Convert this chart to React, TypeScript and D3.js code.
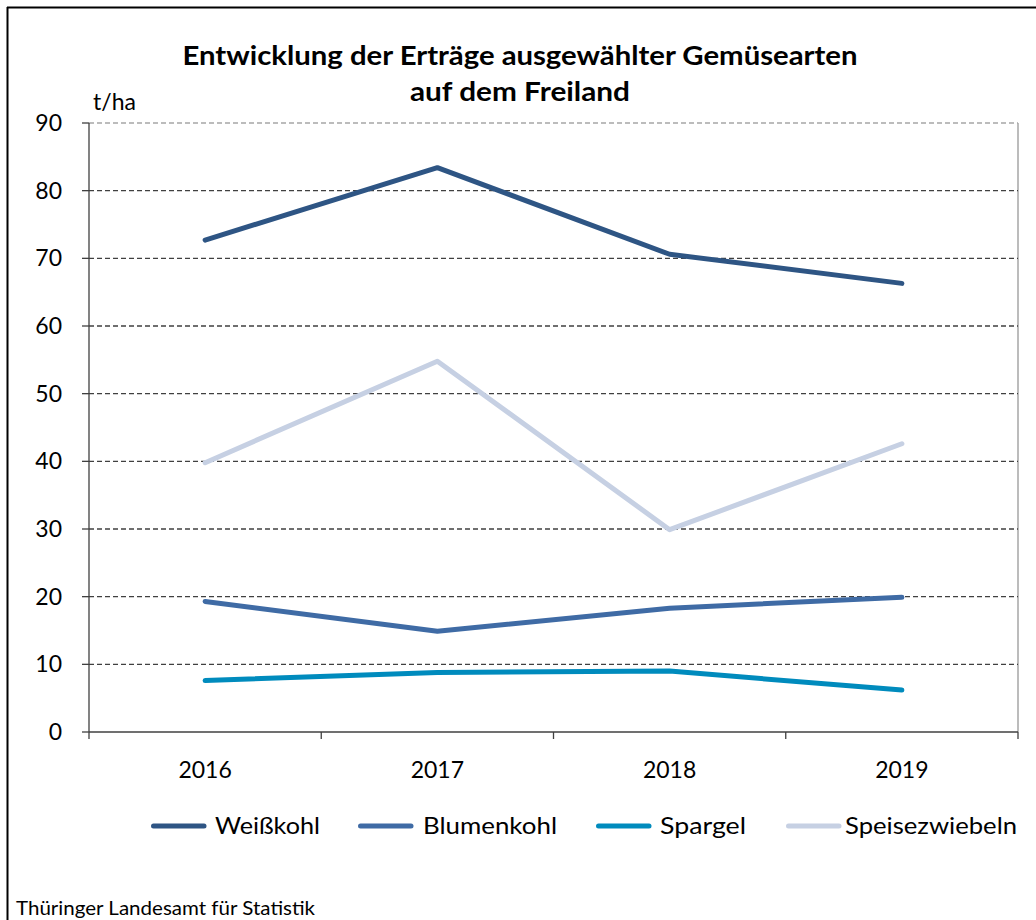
import React from "react";
import * as d3 from "d3";

const years = ["2016", "2017", "2018", "2019"];
const weisskohl = [72.7, 83.4, 70.6, 66.3];
const blumenkohl = [19.3, 14.9, 18.3, 19.9];
const spargel = [7.6, 8.8, 9.0, 6.2];
const speisezwiebeln = [39.8, 54.8, 29.9, 42.6];
const yTicks = [0, 10, 20, 30, 40, 50, 60, 70, 80, 90];

const seriesNames = ["Weißkohl", "Blumenkohl", "Spargel", "Speisezwiebeln"];
const seriesColors = ["#2e5584", "#3f6ba5", "#008bbd", "#c6d0e3"];
const seriesValues = [weisskohl, blumenkohl, spargel, speisezwiebeln];

const FONT = "'Source Sans Pro', Lato, 'Open Sans', sans-serif";

export default function App() {
  const left = 89, right = 1018, top = 123, bottom = 732;
  const x = d3.scaleBand<string>().domain(years).range([left, right]);
  const y = d3.scaleLinear().domain([0, 90]).range([bottom, top]);
  const line = d3
    .line<number>()
    .x((_, i) => (x(years[i]) as number) + x.bandwidth() / 2)
    .y((d) => y(d));

  const boundaries = years.map((yr) => x(yr) as number).concat([right]);

  const legendItems = [
    { lx: 151, tx: 215, w: 105 },
    { lx: 358, tx: 423, w: 134 },
    { lx: 596, tx: 660, w: 86 },
    { lx: 786, tx: 845, w: 172 },
  ];

  return (
    <svg
      width={1036}
      height={920}
      style={{ position: "absolute", left: 0, top: 0, background: "#fff" }}
      fontFamily={FONT}
    >
      <rect x={0} y={0} width={1036} height={920} fill="#fff" />
      {/* outer frame */}
      <line x1={7} y1={7.5} x2={1036} y2={7.5} stroke="#000" strokeWidth={2} />
      <line x1={7.5} y1={7} x2={7.5} y2={920} stroke="#000" strokeWidth={2} />

      {/* title */}
      <text x={520} y={65} textAnchor="middle" fontSize={27} fontWeight="bold" fill="#000" textLength={675} lengthAdjust="spacingAndGlyphs">
        Entwicklung der Erträge ausgewählter Gemüsearten
      </text>
      <text x={520} y={101} textAnchor="middle" fontSize={27} fontWeight="bold" fill="#000" textLength={220} lengthAdjust="spacingAndGlyphs">
        auf dem Freiland
      </text>

      {/* unit */}
      <text x={93} y={110} fontSize={23} fill="#000">t/ha</text>

      {/* plot border right */}
      <line x1={right} y1={top} x2={right} y2={bottom} stroke="#a6a6a6" strokeWidth={1.5} />

      {/* gridlines */}
      {yTicks.filter((t) => t > 0).map((t) => (
        <line
          key={t}
          x1={left}
          x2={right}
          y1={y(t)}
          y2={y(t)}
          stroke={t === 90 ? "#a6a6a6" : "#404040"}
          strokeWidth={1.3}
          strokeDasharray="5,3"
        />
      ))}

      {/* y axis */}
      <line x1={left} y1={top} x2={left} y2={bottom} stroke="#404040" strokeWidth={1.3} />
      {yTicks.map((t) => (
        <g key={t}>
          <line x1={left - 7} x2={left} y1={y(t)} y2={y(t)} stroke="#404040" strokeWidth={1.3} />
          <text x={62} y={y(t) + 8} textAnchor="end" fontSize={23} fill="#000">
            {t}
          </text>
        </g>
      ))}

      {/* x axis */}
      <line x1={left} y1={bottom} x2={right} y2={bottom} stroke="#404040" strokeWidth={1.3} />
      {boundaries.map((b, i) => (
        <line key={i} x1={b} x2={b} y1={bottom} y2={bottom + 7} stroke="#404040" strokeWidth={1.3} />
      ))}
      {years.map((yr) => (
        <text key={yr} x={(x(yr) as number) + x.bandwidth() / 2} y={778} textAnchor="middle" fontSize={23} fill="#000">
          {yr}
        </text>
      ))}

      {/* series */}
      {seriesValues.map((vals, i) => (
        <path
          key={seriesNames[i]}
          d={line(vals) || ""}
          fill="none"
          stroke={seriesColors[i]}
          strokeWidth={5}
          strokeLinecap="round"
          strokeLinejoin="round"
        />
      ))}

      {/* legend */}
      {legendItems.map((it, i) => (
        <g key={seriesNames[i]}>
          <line x1={it.lx + 2.5} x2={it.lx + 53} y1={826} y2={826} stroke={seriesColors[i]} strokeWidth={5} strokeLinecap="round" />
          <text x={it.tx} y={834} fontSize={23} fill="#000" textLength={it.w} lengthAdjust="spacingAndGlyphs">
            {seriesNames[i]}
          </text>
        </g>
      ))}

      {/* source */}
      <text x={16} y={915} fontSize={19} fill="#000" textLength={299} lengthAdjust="spacingAndGlyphs">
        Thüringer Landesamt für Statistik
      </text>
    </svg>
  );
}
